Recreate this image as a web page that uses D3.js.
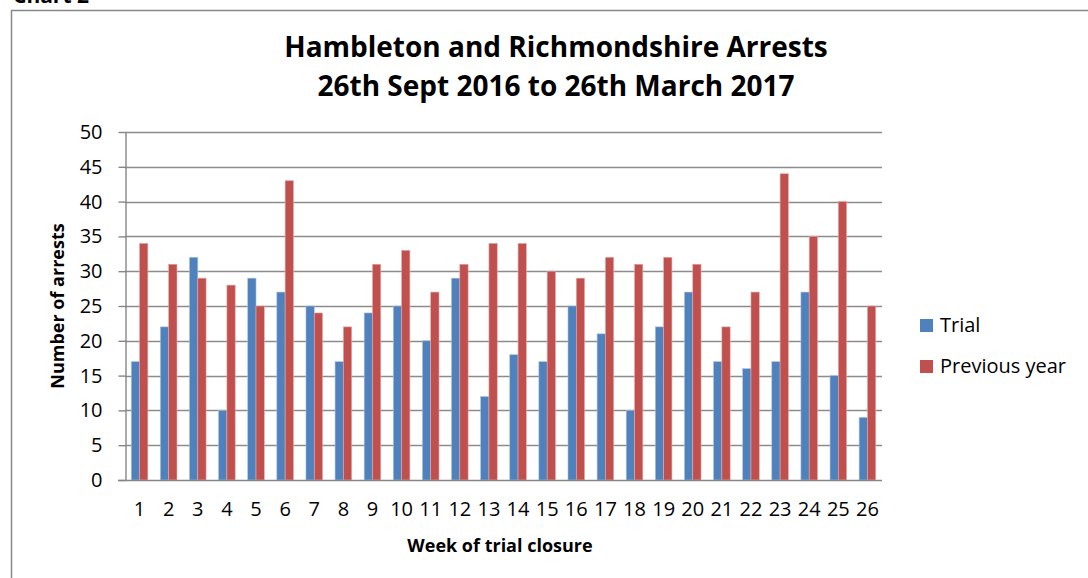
<!DOCTYPE html>
<html>
<head>
<meta charset="utf-8">
<script src="https://cdn.jsdelivr.net/npm/d3@7"></script>
<style>
  body { margin: 0; background: #fff; }
  text { font-family: "Open Sans", "Noto Sans", sans-serif; fill: #000; }
</style>
</head>
<body>
<div id="chart"></div>
<script>
// data
const weeks = d3.range(1, 27).map(String);
const seriesNames = ["Trial", "Previous year"];
const trial = [17,22,32,10,29,27,25,17,24,25,20,29,12,18,17,25,21,10,22,27,17,16,17,27,15,9];
const previousYear = [34,31,29,28,25,43,24,22,31,33,27,31,34,34,30,29,32,31,32,31,22,27,44,35,40,25];
const yTicks = [0,5,10,15,20,25,30,35,40,45,50];
const colors = ["#4F81BD", "#C0504D"];

const width = 1088, height = 578;
const margin = {left: 125, right: 206, top: 132, bottom: 98};

let svg = d3.select("#chart").append("svg")
  .attr("width", width).attr("height", height);

// outer chart frame (runs off the page right and bottom)
svg.append("rect")
  .attr("x", 11.5).attr("y", 10.5)
  .attr("width", 1200).attr("height", 700)
  .attr("fill", "none").attr("stroke", "#888").attr("stroke-width", 1.5);

svg.append("text").attr("x", 13).attr("y", 3)
  .style("font-size", "21px").style("font-weight", "bold").text("Chart 2");

let x0 = d3.scaleBand().domain(weeks)
  .range([margin.left, width - margin.right])
  .paddingInner(0.43).paddingOuter(0.215);
let x1 = d3.scaleBand().domain(seriesNames).range([0, x0.bandwidth()]);
let y = d3.scaleLinear().domain([0, 50]).range([height - margin.bottom, margin.top]);

// gridlines
svg.append("g").selectAll("line").data(yTicks.filter(d => d > 0)).join("line")
  .attr("x1", margin.left).attr("x2", width - margin.right)
  .attr("y1", d => Math.round(y(d)) + 0.5).attr("y2", d => Math.round(y(d)) + 0.5)
  .attr("stroke", "#8c8c8c").attr("stroke-width", 1.4);

// y axis
let yAxis = svg.append("g")
  .attr("transform", `translate(${margin.left + 0.5},0)`)
  .call(d3.axisLeft(y).tickValues(yTicks).tickSize(7).tickPadding(16).tickSizeOuter(0));
yAxis.select(".domain").attr("stroke", "#868686").attr("stroke-width", 1.4);
yAxis.selectAll(".tick line").attr("stroke", "#868686").attr("stroke-width", 1.4);
yAxis.selectAll(".tick text").style("font-size", "20px").attr("fill", "#000")
  .attr("font-family", "Open Sans");

// bars
let rows = weeks.map((w, i) => ({week: w, vals: [trial[i], previousYear[i]]}));
svg.append("g").selectAll("g").data(rows).join("g")
  .attr("transform", d => `translate(${x0(d.week)},0)`)
  .selectAll("rect").data(d => d.vals.map((v, k) => ({key: seriesNames[k], v: v, k: k}))).join("rect")
  .attr("x", d => x1(d.key))
  .attr("width", x1.bandwidth())
  .attr("y", d => y(d.v))
  .attr("height", d => y(0) - y(d.v))
  .attr("fill", d => colors[d.k])
  .attr("stroke", d => d.k === 0 ? "#a9c1e0" : "#e4aaa8")
  .attr("stroke-width", 0.6);

// x axis (line only, no ticks)
let xAxis = svg.append("g")
  .attr("transform", `translate(0,${Math.round(y(0)) + 0.5})`)
  .call(d3.axisBottom(x0).tickSize(0).tickPadding(21).tickSizeOuter(0));
xAxis.select(".domain").attr("stroke", "#868686").attr("stroke-width", 1.4)
  .attr("d", `M${margin.left - 7},0H${width - margin.right}`);
xAxis.selectAll(".tick text").style("font-size", "20px").attr("fill", "#000")
  .attr("font-family", "Open Sans");

// titles
let title = svg.append("text").attr("text-anchor", "middle")
  .style("font-size", "28px").style("font-weight", "bold");
title.append("tspan").attr("x", 556).attr("y", 57).text("Hambleton and Richmondshire Arrests");
title.append("tspan").attr("x", 556).attr("y", 96).text("26th Sept 2016 to 26th March 2017");

svg.append("text").attr("x", 500).attr("y", 552).attr("text-anchor", "middle")
  .style("font-size", "18px").style("font-weight", "bold").text("Week of trial closure");

svg.append("text").attr("transform", "translate(64,306) rotate(-90)").attr("text-anchor", "middle")
  .style("font-size", "18px").style("font-weight", "bold").text("Number of arrests");

// legend
let legend = svg.append("g").selectAll("g").data(seriesNames).join("g")
  .attr("transform", (d, i) => `translate(920,${319 + i * 41})`);
legend.append("rect").attr("width", 13).attr("height", 13).attr("fill", (d, i) => colors[i]);
legend.append("text").attr("x", 20).attr("y", 13).style("font-size", "20px").text(d => d);
</script>
</body>
</html>
